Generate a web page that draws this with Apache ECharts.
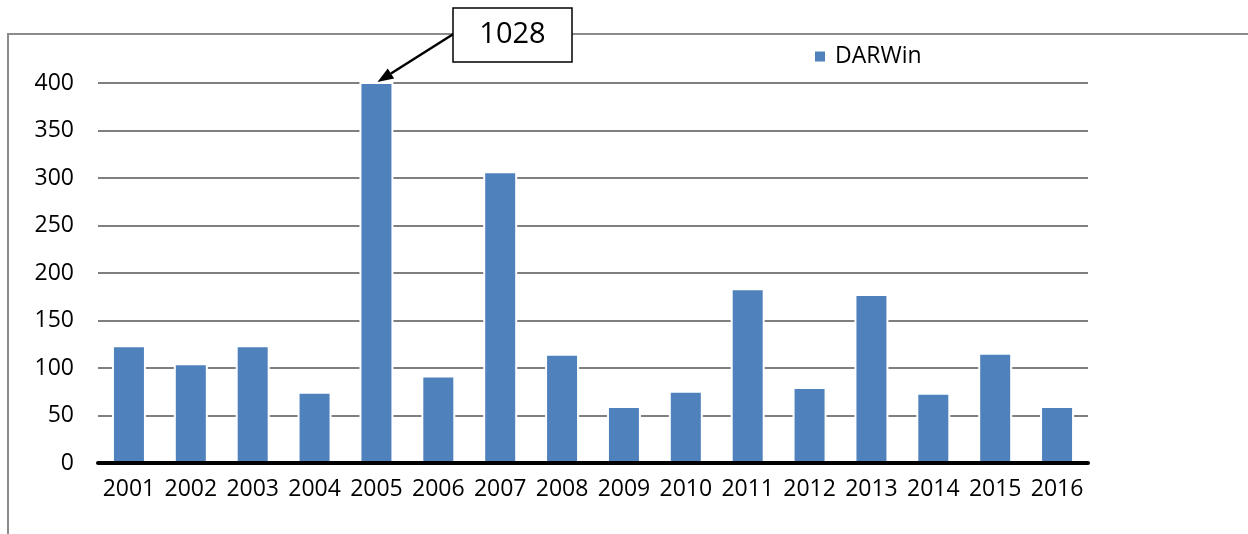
<!DOCTYPE html>
<html>
<head>
<meta charset="utf-8">
<script src="https://cdn.jsdelivr.net/npm/echarts@6/dist/echarts.min.js"></script>
<style>
  html, body { margin: 0; padding: 0; background: #fff; }
  #chart { width: 1248px; height: 534px; }
</style>
</head>
<body>
<div id="chart"></div>
<script>
// Yearly counts for DARWin, 2001–2016
const years = ['2001', '2002', '2003', '2004', '2005', '2006', '2007', '2008',
               '2009', '2010', '2011', '2012', '2013', '2014', '2015', '2016'];
const darwin = [124, 105, 124, 75, 1028, 92, 307, 115, 60, 76, 184, 80, 178, 74, 116, 60];
const yTicks = [0, 50, 100, 150, 200, 250, 300, 350, 400];
const seriesName = 'DARWin';

// Callout for the bar that runs past the top of the axis
const outlierIndex = darwin.indexOf(Math.max(...darwin));
const outlierLabel = String(darwin[outlierIndex]);

const FONT = '"Open Sans", "Liberation Sans", sans-serif';
const yMax = yTicks[yTicks.length - 1];
const chart = echarts.init(document.getElementById('chart'), null, { renderer: 'canvas' });

chart.setOption({
  animation: false,
  backgroundColor: '#ffffff',
  grid: { left: 98, right: 160, top: 83, bottom: 71 },
  legend: {
    data: [seriesName],
    left: 808, top: 40,
    icon: 'rect', itemWidth: 12, itemHeight: 12,
    textStyle: { fontFamily: FONT, fontSize: 23, color: '#000', padding: [0, 0, 0, 4] }
  },
  xAxis: {
    type: 'category',
    data: years,
    z: 5,
    axisLine: { lineStyle: { color: '#000', width: 4 } },
    axisTick: { show: false },
    axisLabel: { fontFamily: FONT, fontSize: 23, color: '#000', margin: 15, interval: 0 }
  },
  yAxis: {
    type: 'value',
    min: 0, max: yMax, interval: 50,
    axisLine: { show: false },
    axisTick: { show: false },
    axisLabel: { fontFamily: FONT, fontSize: 23, color: '#000', margin: 24 },
    splitLine: { lineStyle: { color: '#7f7f7f', width: 2 } }
  },
  series: [{
    name: seriesName,
    type: 'bar',
    data: darwin,
    barWidth: 34,
    clip: true,
    itemStyle: { color: '#4f81bd', borderColor: '#ffffff', borderWidth: 2 }
  }]
});

// Frame, callout box and arrow pointing at the clipped bar
const tip = chart.convertToPixel({ xAxisIndex: 0, yAxisIndex: 0 }, [years[outlierIndex], yMax]);
const box = { x: 453, y: 8, w: 119, h: 54 };
const start = [box.x + 2, 33];
const end = [tip[0] + 1, tip[1] - 1];
const ang = Math.atan2(end[1] - start[1], end[0] - start[0]);
const headLen = 16, headHalf = 6;
const bx = end[0] - headLen * Math.cos(ang), by = end[1] - headLen * Math.sin(ang);
const nx = -Math.sin(ang), ny = Math.cos(ang);

chart.setOption({
  graphic: [
    {
      type: 'rect', z: 0, silent: true,
      shape: { x: 8, y: 34, width: 1400, height: 700 },
      style: { fill: 'none', stroke: '#8c8c8c', lineWidth: 2 }
    },
    {
      type: 'line', z: 10,
      shape: { x1: start[0], y1: start[1], x2: bx, y2: by },
      style: { stroke: '#000', lineWidth: 2.5 }
    },
    {
      type: 'polygon', z: 10,
      shape: { points: [end, [bx + nx * headHalf, by + ny * headHalf], [bx - nx * headHalf, by - ny * headHalf]] },
      style: { fill: '#000' }
    },
    {
      type: 'rect', z: 11,
      shape: { x: box.x, y: box.y, width: box.w, height: box.h },
      style: { fill: '#fff', stroke: '#000', lineWidth: 1.5 }
    },
    {
      type: 'text', z: 12,
      x: box.x + box.w / 2, y: box.y + box.h / 2,
      style: { text: outlierLabel, fontFamily: FONT, fontSize: 29, fill: '#000', align: 'center', verticalAlign: 'middle' }
    }
  ]
});
</script>
</body>
</html>
